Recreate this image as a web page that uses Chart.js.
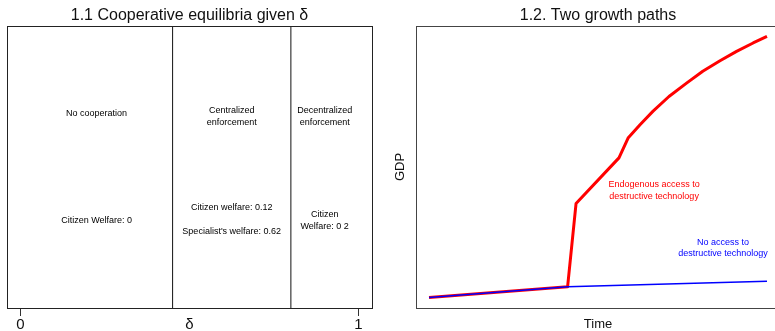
<!DOCTYPE html>
<html>
<head>
<meta charset="utf-8">
<script src="https://cdn.jsdelivr.net/npm/chart.js@4/dist/chart.umd.min.js"></script>
<style>
  html, body { margin: 0; padding: 0; width: 775px; height: 331px; overflow: hidden; background: #fff; }
  #left { position: absolute; left: 0; top: 0; }
  #right { position: absolute; left: 388px; top: 0; }
</style>
</head>
<body>
<canvas id="left" width="388" height="331"></canvas>
<canvas id="right" width="400" height="331"></canvas>
<script>
// panel 1.1 - regions of delta
var deltaTicks = [0, 0.5, 1];
var deltaTickLabels = ['0', 'δ', '1'];
var regimeBounds = [0.45, 0.8];
var regimeNotes = [
  { x: 0.225, y: 0.69, text: ['No cooperation'] },
  { x: 0.625, y: 0.68, text: ['Centralized', 'enforcement'] },
  { x: 0.9, y: 0.68, text: ['Decentralized', 'enforcement'] },
  { x: 0.225, y: 0.31, text: ['Citizen Welfare: 0'] },
  { x: 0.625, y: 0.355, text: ['Citizen welfare: 0.12'] },
  { x: 0.625, y: 0.27, text: ["Specialist's welfare: 0.62"] },
  { x: 0.9, y: 0.31, text: ['Citizen', 'Welfare: 0 2'] }
];

// panel 1.2 - growth paths
var timeRed = [0, 41, 43.5, 56.2, 58.9, 62.5, 66.3, 71, 76.3, 81, 86.1, 91, 95.9, 100];
var gdpRed = [0, 4.1, 36, 53.5, 61.1, 66.3, 71.4, 77, 82.2, 86.7, 90.7, 94.3, 97.5, 100];
var timeBlue = [0, 41, 100];
var gdpBlue = [0, 4.1, 6.2];
var pathNotes = [
  { x: 66.6, y: 41, text: ['Endogenous access to', 'destructive technology'], color: '#ff0000' },
  { x: 87, y: 19, text: ['No access to', 'destructive technology'], color: '#0000ff' }
];

var FONT = "'Liberation Sans', Arial, sans-serif";

// text placed in data coordinates
var notesPlugin = {
  id: 'notes',
  afterDatasetsDraw: function(chart, args, opts) {
    var ctx = chart.ctx;
    var xs = chart.scales.x, ys = chart.scales.y;
    ctx.save();
    ctx.font = opts.size + 'px ' + FONT;
    ctx.textAlign = 'center';
    ctx.textBaseline = 'middle';
    for (var i = 0; i < opts.items.length; i++) {
      var n = opts.items[i];
      var px = xs.getPixelForValue(n.x);
      var py = ys.getPixelForValue(n.y);
      ctx.fillStyle = n.color || '#000';
      for (var j = 0; j < n.text.length; j++) {
        ctx.fillText(n.text[j], px, py + (j - (n.text.length - 1) / 2) * opts.lineHeight);
      }
    }
    ctx.restore();
  }
};

// box around the plot region
var framePlugin = {
  id: 'frame',
  afterDraw: function(chart, args, opts) {
    var a = chart.chartArea, ctx = chart.ctx;
    ctx.save();
    ctx.strokeStyle = opts.color;
    ctx.lineWidth = 1;
    ctx.strokeRect(Math.round(a.left) + 0.5, Math.round(a.top) + 0.5,
      Math.round(a.right - a.left), Math.round(a.bottom - a.top));
    ctx.restore();
  }
};

function titleOpts(text) {
  return {
    display: true,
    text: text,
    fullSize: false,
    color: '#111',
    font: { family: FONT, size: 16, weight: 'normal', lineHeight: 1.2 },
    padding: { top: 6.4, bottom: 0.4 }
  };
}

var boundSets = regimeBounds.map(function(b) {
  return {
    data: [{ x: b, y: 0 }, { x: b, y: 1 }],
    borderColor: '#111',
    borderWidth: 1,
    pointRadius: 0
  };
});

new Chart(document.getElementById('left').getContext('2d'), {
  type: 'line',
  data: { datasets: boundSets },
  options: {
    responsive: false,
    animation: false,
    layout: { padding: { left: 7, right: 16, top: 0, bottom: 0 } },
    scales: {
      x: {
        type: 'linear',
        min: -0.04,
        max: 1.04,
        afterBuildTicks: function(scale) {
          scale.ticks = deltaTicks.map(function(v) { return { value: v }; });
        },
        afterFit: function(scale) { scale.height = 23; },
        ticks: {
          color: '#111',
          padding: 0,
          maxRotation: 0,
          autoSkip: false,
          font: { family: FONT, size: 15, lineHeight: 1.2 },
          callback: function(v, i) { return deltaTickLabels[i]; }
        },
        grid: {
          drawOnChartArea: false,
          drawTicks: true,
          tickLength: 8,
          tickColor: function(c) { return c.tick && c.tick.value === 0.5 ? 'rgba(0,0,0,0)' : '#333'; }
        },
        border: { display: false }
      },
      y: { type: 'linear', min: 0, max: 1, display: false }
    },
    plugins: {
      legend: { display: false },
      tooltip: { enabled: false },
      title: titleOpts('1.1 Cooperative equilibria given δ'),
      notes: { items: regimeNotes, size: 9, lineHeight: 12 },
      frame: { color: '#222' }
    }
  },
  plugins: [notesPlugin, framePlugin]
});

function toPoints(xs, ys) {
  return xs.map(function(x, i) { return { x: x, y: ys[i] }; });
}

new Chart(document.getElementById('right').getContext('2d'), {
  type: 'line',
  data: {
    datasets: [
      { label: 'No access', data: toPoints(timeBlue, gdpBlue), borderColor: '#0000ff', borderWidth: 1.5, pointRadius: 0 },
      { label: 'Endogenous access', data: toPoints(timeRed, gdpRed), borderColor: '#ff0000', borderWidth: 3, pointRadius: 0, borderJoinStyle: 'round' }
    ]
  },
  options: {
    responsive: false,
    animation: false,
    layout: { padding: { left: 0, right: 7.5, top: 0, bottom: 0 } },
    scales: {
      x: {
        type: 'linear',
        min: -4,
        max: 104,
        afterFit: function(scale) { scale.height = 23; },
        ticks: { display: false },
        grid: { display: false },
        border: { display: false },
        title: { display: true, text: 'Time', color: '#111', font: { family: FONT, size: 13, lineHeight: 1 }, padding: { top: 0, bottom: 0 } }
      },
      y: {
        type: 'linear',
        min: -4,
        max: 104,
        afterFit: function(scale) { scale.width = 27.5; },
        ticks: { display: false },
        grid: { display: false },
        border: { display: false },
        title: { display: true, text: 'GDP', color: '#111', font: { family: FONT, size: 13, lineHeight: 1.2 }, padding: { top: 4.2, bottom: 0 } }
      }
    },
    plugins: {
      legend: { display: false },
      tooltip: { enabled: false },
      title: titleOpts('1.2. Two growth paths'),
      notes: { items: pathNotes, size: 9, lineHeight: 11.5 },
      frame: { color: '#444' }
    }
  },
  plugins: [notesPlugin, framePlugin]
});
</script>
</body>
</html>
